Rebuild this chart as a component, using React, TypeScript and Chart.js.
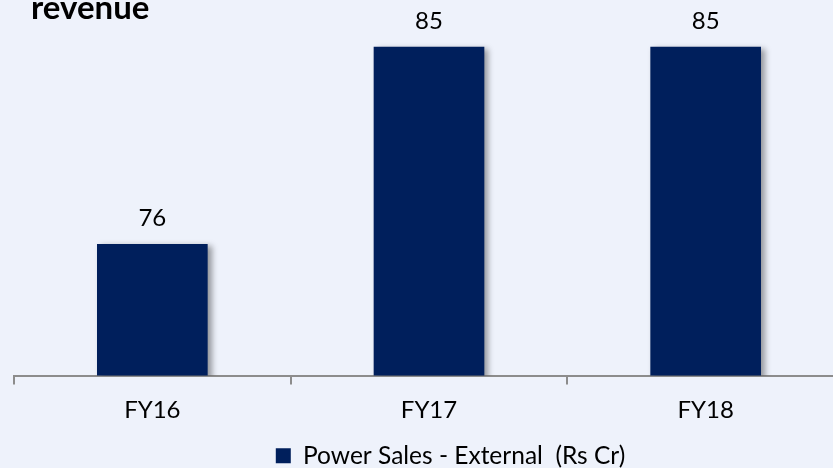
import React, { useEffect, useRef } from "react";
import { Chart, registerables } from "chart.js";

Chart.register(...registerables);

const categories = ["FY16", "FY17", "FY18"];
const powerSalesExternal = [76, 85, 85];
const seriesLabel = "Power Sales - External  (Rs Cr)";
const titleText = "revenue";

const BG = "rgb(238,242,251)";
const BAR = "#001f5c";
const AXIS = "#8c8c8c";
const FONT = "Lato, 'DejaVu Sans', sans-serif";

const bgPlugin = {
  id: "bg",
  beforeDraw(chart: any) {
    const { ctx, width, height } = chart;
    ctx.save();
    ctx.fillStyle = BG;
    ctx.fillRect(0, 0, width, height);
    ctx.restore();
  },
};

const titlePlugin = {
  id: "cornerTitle",
  afterDraw(chart: any) {
    const { ctx } = chart;
    ctx.save();
    ctx.font = `bold 33px ${FONT}`;
    ctx.fillStyle = "#000";
    ctx.textBaseline = "alphabetic";
    ctx.textAlign = "left";
    ctx.fillText(titleText, 31, 19);
    ctx.restore();
  },
};

const shadowPlugin = {
  id: "barShadow",
  beforeDatasetDraw(chart: any) {
    const { ctx } = chart;
    ctx.save();
    ctx.shadowColor = "rgba(0,0,0,0.38)";
    ctx.shadowOffsetX = 4;
    ctx.shadowOffsetY = 2;
    ctx.shadowBlur = 6;
  },
  afterDatasetDraw(chart: any) {
    chart.ctx.restore();
  },
};

const valueLabelPlugin = {
  id: "valueLabels",
  afterDatasetsDraw(chart: any) {
    const { ctx } = chart;
    ctx.save();
    ctx.font = `24px ${FONT}`;
    ctx.fillStyle = "#000";
    ctx.textAlign = "center";
    ctx.textBaseline = "alphabetic";
    chart.data.datasets.forEach((ds: any, i: number) => {
      const meta = chart.getDatasetMeta(i);
      meta.data.forEach((el: any, j: number) => {
        ctx.fillText(String(ds.data[j]), el.x, el.y - 18);
      });
    });
    ctx.restore();
  },
};

export default function App() {
  const ref = useRef<HTMLCanvasElement | null>(null);

  useEffect(() => {
    if (!ref.current) return;
    const chart = new Chart(ref.current, {
      type: "bar",
      data: {
        labels: categories,
        datasets: [
          {
            label: seriesLabel,
            data: powerSalesExternal,
            backgroundColor: BAR,
            borderWidth: 0,
            categoryPercentage: 1,
            barPercentage: 0.4,
            yAxisID: "y",
          },
        ],
      },
      options: {
        animation: false,
        responsive: true,
        maintainAspectRatio: false,
        layout: { padding: { top: 3, bottom: -10, left: 0, right: 0 } },
        plugins: {
          title: { display: false },
          tooltip: { enabled: false },
          legend: {
            position: "bottom",
            labels: {
              boxWidth: 15,
              boxHeight: 15,
              padding: 10,
              color: "#000",
              font: { family: FONT, size: 24.5 },
            },
          },
        },
        scales: {
          x: {
            offset: true,
            grid: {
              offset: true,
              drawOnChartArea: false,
              drawTicks: true,
              tickLength: 9,
              color: AXIS,
              lineWidth: 2,
            },
            border: { display: true, color: AXIS, width: 2 },
            ticks: {
              color: "#000",
              padding: 11,
              font: { family: FONT, size: 24 },
            },
            afterFit(scale: any) {
              scale.height = 58;
            },
          },
          y: {
            position: "left",
            min: 70,
            max: 87,
            grid: { display: false },
            border: { display: false },
            ticks: { display: false },
            afterFit(scale: any) {
              scale.width = 14;
            },
          },
          y2: {
            position: "right",
            min: 70,
            max: 87,
            grid: { display: false },
            border: { display: false },
            ticks: { display: false },
            afterFit(scale: any) {
              scale.width = 57;
            },
          },
        },
      },
      plugins: [bgPlugin, shadowPlugin, valueLabelPlugin, titlePlugin],
    });
    return () => chart.destroy();
  }, []);

  return (
    <div
      style={{
        position: "absolute",
        left: 0,
        top: 0,
        width: 833,
        height: 468,
        overflow: "hidden",
        background: BG,
      }}
    >
      <div style={{ position: "relative", width: 901, height: 468 }}>
        <canvas ref={ref} />
      </div>
    </div>
  );
}
